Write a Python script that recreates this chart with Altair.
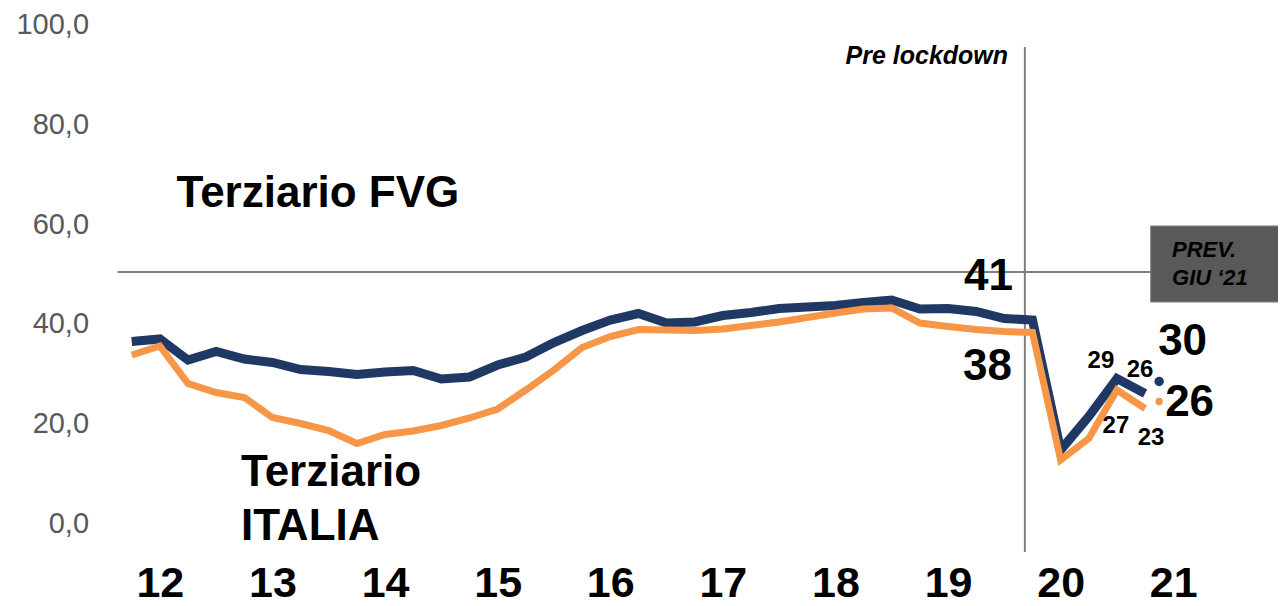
import altair as alt
import pandas as pd

# ---- data ----
quarter_idx = list(range(37))          # 2011Q4 ... 2020Q4
fvg = [36.1, 36.6, 32.4, 34.1, 32.6, 31.9, 30.5, 30.1, 29.5, 30.0, 30.3, 28.6,
       29.0, 31.4, 33.0, 35.9, 38.3, 40.4, 41.7, 39.8, 40.0, 41.3, 41.9, 42.7,
       43.0, 43.3, 43.9, 44.4, 42.6, 42.7, 42.1, 40.7, 40.4, 14.4, 21.1, 28.7, 25.7]
ita = [33.4, 35.2, 27.7, 25.9, 24.9, 20.9, 19.7, 18.3, 15.7, 17.5, 18.2, 19.3,
       20.8, 22.6, 26.4, 30.4, 34.9, 37.1, 38.5, 38.4, 38.3, 38.6, 39.3, 40.0,
       40.9, 41.8, 42.6, 42.8, 39.8, 39.1, 38.5, 38.1, 37.9, 12.4, 16.7, 26.4, 22.7]
forecast_idx = 36.5
fvg_forecast = 28.1
ita_forecast = 24.1

year_ticks = [1, 5, 9, 13, 17, 21, 25, 29, 33, 37]
year_labels = ["12", "13", "14", "15", "16", "17", "18", "19", "20", "21"]
y_ticks = [0, 20, 40, 60, 80, 100]

threshold = 50
lockdown_idx = 31.73
box_x = 36.2
box_top, box_bottom = 59.2, 44.0

# ---- styling ----
FONT = "Liberation Sans"
NAVY = "#203864"
ORANGE = "#F79646"
GREY = "#808080"

label_expr_x = "[" + ",".join(f"'{l}'" for l in year_labels) + "][round((datum.value-1)/4)]"

xscale = alt.Scale(domain=[-1, 40.4], nice=False, zero=False)
yscale = alt.Scale(domain=[-6, 100], nice=False, zero=False)
xaxis = alt.Axis(values=year_ticks, labelExpr=label_expr_x, title=None, grid=False,
                 domain=False, ticks=False, tickSize=0, labelPadding=45,
                 labelBaseline="alphabetic", labelFont=FONT, labelFontSize=43,
                 labelFontWeight="bold", labelColor="black", labelOverlap=False,
                 labelFlush=False)
yaxis = alt.Axis(values=y_ticks, labelExpr="replace(format(datum.value, '.1f'), '.', ',')",
                 title=None, grid=False, domain=False, ticks=False, tickSize=0,
                 labelPadding=15, labelOffset=2, labelFont=FONT, labelFontSize=29,
                 labelColor="#595959", labelOverlap=False, labelFlush=False)


def X(field="i"):
    return alt.X(f"{field}:Q", scale=xscale, axis=xaxis)


def Y(field="v"):
    return alt.Y(f"{field}:Q", scale=yscale, axis=yaxis)


df_fvg = pd.DataFrame({"i": quarter_idx, "v": fvg})
df_ita = pd.DataFrame({"i": quarter_idx, "v": ita})

base = alt.Chart(pd.DataFrame({"a": [0]}))

hrule = base.mark_rule(color=GREY, strokeWidth=2).encode(
    x=alt.datum(-0.5, scale=xscale, axis=xaxis), x2=alt.datum(box_x),
    y=alt.datum(threshold, scale=yscale, axis=yaxis))
vrule = base.mark_rule(color=GREY, strokeWidth=2).encode(
    x=alt.datum(lockdown_idx, scale=xscale, axis=xaxis),
    y=alt.datum(95, scale=yscale, axis=yaxis), y2=alt.datum(-6))
box = base.mark_rect(fill="#595959", stroke="#7f7f7f", strokeWidth=1).encode(
    x=alt.datum(box_x, scale=xscale, axis=xaxis), x2=alt.value(1200),
    y=alt.datum(box_top, scale=yscale, axis=yaxis), y2=alt.datum(box_bottom))

line_fvg = alt.Chart(df_fvg).mark_line(color=NAVY, strokeWidth=9).encode(x=X(), y=Y())
line_ita = alt.Chart(df_ita).mark_line(color=ORANGE, strokeWidth=7).encode(x=X(), y=Y())

dot_fvg = alt.Chart(pd.DataFrame({"i": [forecast_idx], "v": [fvg_forecast]})).mark_circle(
    color=NAVY, opacity=1, size=90).encode(x=X(), y=Y())
dot_ita = alt.Chart(pd.DataFrame({"i": [forecast_idx], "v": [ita_forecast]})).mark_circle(
    color=ORANGE, opacity=1, size=55).encode(x=X(), y=Y())


def vlabel(i, v, txt, dx, dy, size, align="center"):
    return alt.Chart(pd.DataFrame({"i": [i], "v": [v], "t": [txt]})).mark_text(
        dx=dx, dy=dy, fontSize=size, fontWeight="bold", font=FONT, align=align,
        baseline="middle", color="black").encode(x=X(), y=Y(), text="t:N")


labels = [
    vlabel(32, fvg[32], "41", -19.5, -43, 44, "right"),
    vlabel(32, ita[32], "38", -20.5, 34.5, 44, "right"),
    vlabel(35, fvg[35], "29", -16, -17.5, 24),
    vlabel(36, fvg[36], "26", -5, -23.5, 24),
    vlabel(35, ita[35], "27", -1, 36, 24),
    vlabel(36, ita[36], "23", 6, 29.5, 24),
    vlabel(forecast_idx, fvg_forecast, "30", -1, -39.5, 44, "left"),
    vlabel(forecast_idx, ita_forecast, "26", 6, 1.5, 44, "left"),
]


def note(txt, x, y, size, align="left", italic=False):
    return base.mark_text(text=txt, fontSize=size, fontWeight="bold", font=FONT,
                          fontStyle="italic" if italic else "normal", align=align,
                          baseline="alphabetic", color="black").encode(
        x=alt.value(x), y=alt.value(y))


notes = [
    note("Terziario FVG", 73, 185, 44),
    note("Terziario", 137.5, 464, 44),
    note("ITALIA", 137.5, 518, 44),
    note("Pre lockdown", 904.5, 42, 25, "right", True),
    note("PREV.", 1068.5, 235, 22, "left", True),
    note("GIU \u201821", 1068.5, 263, 22, "left", True),
]

chart = alt.layer(hrule, vrule, box, line_fvg, line_ita, dot_fvg, dot_ita, *labels, *notes).properties(
    width=1165.4, height=530,
    autosize=alt.AutoSizeParams(type="none"),
    padding={"left": 95.55, "top": 14, "right": 9, "bottom": 56},
    background="white",
).configure_view(stroke=None)

chart.save("out.html", embed_options={"renderer": "svg", "actions": False})
